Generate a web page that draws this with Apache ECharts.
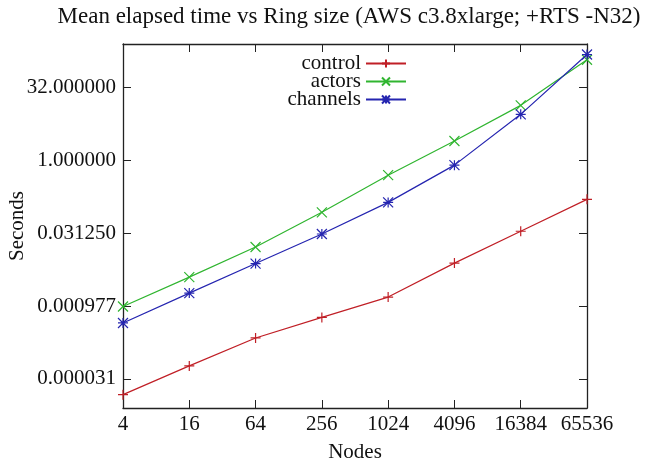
<!DOCTYPE html>
<html>
<head>
<meta charset="utf-8">
<script src="https://cdn.jsdelivr.net/npm/echarts@6/dist/echarts.min.js"></script>
<style>
    html, body { margin: 0; padding: 0; background: #fff; }
    #chart { width: 666px; height: 465px; }
</style>
</head>
<body>
<div id="chart"></div>
<script>
// ring sizes on the x axis
const nodes = ['4', '16', '64', '256', '1024', '4096', '16384', '65536']

// mean elapsed time in seconds
const control = [0.0000144, 0.0000566, 0.000214, 0.000569, 0.00150, 0.00755, 0.0344, 0.157]
const actors = [0.000956, 0.00388, 0.0163, 0.0848, 0.497, 2.53, 13.8, 121]
const channels = [0.000437, 0.00181, 0.00739, 0.0302, 0.136, 0.801, 9.0, 155]

// y tick values (powers of two, every 2^5)
const yTicks = [Math.pow(2, -15), Math.pow(2, -10), Math.pow(2, -5), 1, 32]

const serif = 'Liberation Serif'
const fs = 21
const axisColor = '#222'

const plus = 'path://M0,-5L0,5M-5,0L5,0'
const cross = 'path://M-5,-5L5,5M-5,5L5,-5'
const star = 'path://M0,-5L0,5M-5,0L5,0M-5,-5L5,5M-5,5L5,-5'

const mkSeries = (name, data, color, symbol) => ({
    name: name,
    type: 'line',
    data: data,
    color: color,
    symbol: symbol,
    symbolSize: 10,
    showAllSymbol: true,
    lineStyle: { width: 1.2, color: color },
    itemStyle: { color: color, borderColor: color, borderWidth: 1.2 },
    animation: false,
})

const logAxis = (pos, labels) => ({
    type: 'log',
    logBase: 2,
    position: pos,
    min: Math.pow(2, -17),
    max: 256,
    axisLine: { show: true, lineStyle: { color: axisColor, width: 1.3 } },
    axisTick: { show: true, inside: true, length: 8, customValues: yTicks, lineStyle: { color: axisColor } },
    splitLine: { show: false },
    axisLabel: {
        show: labels,
        customValues: yTicks,
        fontFamily: serif,
        fontSize: fs,
        color: '#111',
        margin: 7,
        formatter: (v) => v.toFixed(6),
    },
})

const catAxis = (pos, labels) => ({
    type: 'category',
    data: nodes,
    position: pos,
    boundaryGap: false,
    axisLine: { show: true, lineStyle: { color: axisColor, width: 1.3 } },
    axisTick: { show: true, inside: true, length: 8, interval: 0, alignWithLabel: true, lineStyle: { color: axisColor } },
    splitLine: { show: false },
    axisLabel: { show: labels, interval: 0, fontFamily: serif, fontSize: fs, color: '#111', margin: 6 },
})

const mkLegend = (name, top) => ({
    data: [name],
    right: 259,
    top: top,
    align: 'right',
    orient: 'vertical',
    itemWidth: 40,
    itemHeight: 10,
    padding: 0,
    textStyle: { fontFamily: serif, fontSize: fs, color: '#111' },
})

const option = {
    backgroundColor: '#fff',
    animation: false,
    title: {
        text: 'Mean elapsed time vs Ring size (AWS c3.8xlarge; +RTS -N32)',
        left: 344,
        textAlign: 'center',
        top: 0,
        textStyle: { fontFamily: serif, fontSize: 23, fontWeight: 'normal', color: '#111' },
    },
    legend: [mkLegend('control', 53), mkLegend('actors', 71), mkLegend('channels', 89)],
    grid: { left: 123, right: 79, top: 44, bottom: 57, containLabel: false, outerBoundsMode: 'none' },
    xAxis: [
        Object.assign(catAxis('bottom', true), {
            name: 'Nodes',
            nameLocation: 'middle',
            nameGap: 34,
            nameTextStyle: { fontFamily: serif, fontSize: fs, color: '#111' },
        }),
        catAxis('top', false),
    ],
    yAxis: [
        Object.assign(logAxis('left', true), {
            name: 'Seconds',
            nameLocation: 'middle',
            nameGap: 95,
            nameMoveOverlap: false,
            nameTextStyle: { fontFamily: serif, fontSize: fs, color: '#111' },
        }),
        logAxis('right', false),
    ],
    series: [
        mkSeries('control', control, '#c01f26', plus),
        mkSeries('actors', actors, '#30b530', cross),
        mkSeries('channels', channels, '#2525b0', star),
    ],
}

const chart = echarts.init(document.getElementById('chart'), null, { renderer: 'canvas' })
chart.setOption(option)
</script>
</body>
</html>
